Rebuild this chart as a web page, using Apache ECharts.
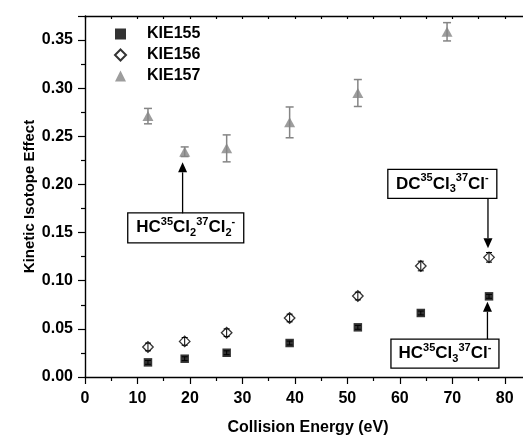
<!DOCTYPE html>
<html><head><meta charset="utf-8">
<script src="https://cdn.jsdelivr.net/npm/echarts@6/dist/echarts.min.js"></script>
<style>html,body{margin:0;padding:0;background:#fff}#c{width:523px;height:437px}</style>
</head><body><div id="c"></div>
<script>
// ---- data ----
const energy = [12, 19, 27, 39, 52, 64, 77];
const kie155 = [0.0152, 0.019, 0.0252, 0.0353, 0.0516, 0.0665, 0.0838];
const kie155Err = [0.002, 0.002, 0.002, 0.002, 0.002, 0.002, 0.002];
const kie156 = [0.0312, 0.037, 0.046, 0.0613, 0.0841, 0.1153, 0.1243];
const kie156Err = [0.004, 0.004, 0.004, 0.004, 0.004, 0.005, 0.005];
const energy157 = [12, 19, 27, 39, 52, 69];
const kie157 = [0.271, 0.234, 0.2375, 0.2645, 0.295, 0.3586];
const kie157Err = [0.008, 0.005, 0.014, 0.016, 0.014, 0.0095];
const seriesNames = ['KIE155', 'KIE156', 'KIE157'];
const xTitle = 'Collision Energy (eV)';
const yTitle = 'Kinetic Isotope Effect';
// annotations: [boxCenterX, boxCenterY, arrowX, arrowFromY, arrowToY, richText]
const annotations = [
  [19.2, 0.155, 18.6, 0.170, 0.223, '{n|HC}{sup|35}{n|Cl}{sub|2}{sup|37}{n|Cl}{sub|2}{sup|-}'],
  [68.1, 0.2006, 76.8, 0.1856, 0.1337, '{n|DC}{sup|35}{n|Cl}{sub|3}{sup|37}{n|Cl}{supr|-}'],
  [68.6, 0.0242, 76.7, 0.0395, 0.0782, '{n|HC}{sup|35}{n|Cl}{sub|3}{sup|37}{n|Cl}{sup|-}']
];
const boxSizes = [[116, 30], [109, 29], [108, 29]];

const FONT = 'Liberation Sans, Arial, sans-serif';
const GRAY = '#858585';

function errSeries(xs, ys, es, color, cap, lw) {
  return {
    type: 'custom', silent: true, z: 1,
    renderItem: function (params, api) {
      const x = api.value(0), y = api.value(1), e = api.value(2);
      const lo = api.coord([x, y - e]), hi = api.coord([x, y + e]);
      const w = cap / 2, st = {stroke: color, lineWidth: lw};
      return {type: 'group', children: [
        {type: 'line', shape: {x1: lo[0], y1: lo[1], x2: hi[0], y2: hi[1]}, style: st},
        {type: 'line', shape: {x1: lo[0] - w, y1: lo[1], x2: lo[0] + w, y2: lo[1]}, style: st},
        {type: 'line', shape: {x1: hi[0] - w, y1: hi[1], x2: hi[0] + w, y2: hi[1]}, style: st}
      ]};
    },
    data: xs.map((x, i) => [x, ys[i], es[i]])
  };
}

const chart = echarts.init(document.getElementById('c'), null, {renderer: 'canvas'});
const axisBase = {
  axisLine: {lineStyle: {color: '#000', width: 1.4}},
  splitLine: {show: false},
  nameMoveOverlap: false
};
chart.setOption({
  animation: false,
  backgroundColor: '#fff',
  textStyle: {fontFamily: FONT},
  grid: {left: 85, top: 16, width: 446, height: 361, containLabel: false, outerBoundsMode: 'none'},
  legend: {
    left: 109, top: 21, orient: 'vertical',
    itemWidth: 11, itemHeight: 11, itemGap: 5,
    textStyle: {fontFamily: FONT, fontWeight: 'bold', fontSize: 16, color: '#000', lineHeight: 16, padding: [0, 0, 0, 16]},
    data: seriesNames
  },
  xAxis: [
    Object.assign({}, axisBase, {
      type: 'value', min: 0, max: 85, interval: 10, position: 'bottom',
      name: xTitle, nameLocation: 'middle', nameGap: 43,
      nameTextStyle: {fontFamily: FONT, fontWeight: 'bold', fontSize: 16, color: '#000'},
      axisTick: {show: true, inside: false, length: 7, lineStyle: {color: '#000', width: 1.2}},
      minorTick: {show: true, splitNumber: 2, length: 4, lineStyle: {color: '#000', width: 1.2}},
      axisLabel: {fontFamily: FONT, fontWeight: 'bold', fontSize: 16, color: '#000', margin: 14, showMaxLabel: false}
    }),
    Object.assign({}, axisBase, {
      type: 'value', min: 0, max: 85, interval: 5, position: 'top',
      axisTick: {show: true, inside: true, length: 3, lineStyle: {color: '#000', width: 1.2}},
      axisLabel: {show: false}
    })
  ],
  yAxis: Object.assign({}, axisBase, {
    type: 'value', min: 0, max: 0.375, interval: 0.05,
    name: yTitle, nameLocation: 'middle', nameGap: 48,
    nameTextStyle: {fontFamily: FONT, fontWeight: 'bold', fontSize: 15, color: '#000'},
    axisTick: {show: true, inside: false, length: 7, lineStyle: {color: '#000', width: 1.2}},
    minorTick: {show: true, splitNumber: 2, length: 4, lineStyle: {color: '#000', width: 1.2}},
    axisLabel: {fontFamily: FONT, fontWeight: 'bold', fontSize: 16, color: '#000', margin: 12, showMaxLabel: false,
      formatter: v => v.toFixed(2)}
  }),
  series: [
    errSeries(energy, kie155, kie155Err, '#000', 6, 1),
    errSeries(energy, kie156, kie156Err, '#000', 6, 1),
    errSeries(energy157, kie157, kie157Err, GRAY, 8, 1.5),
    {name: seriesNames[0], type: 'scatter', z: 3, symbol: 'rect', symbolSize: 8.5,
      itemStyle: {color: '#000'}, data: energy.map((x, i) => [x, kie155[i]])},
    {name: seriesNames[1], type: 'scatter', z: 3, symbol: 'diamond', symbolSize: 10.5,
      itemStyle: {color: 'rgba(255,255,255,0)', borderColor: '#000', borderWidth: 1.3}, data: energy.map((x, i) => [x, kie156[i]])},
    {name: seriesNames[2], type: 'scatter', z: 3, symbol: 'triangle', symbolSize: [11, 10],
      itemStyle: {color: GRAY}, data: energy157.map((x, i) => [x, kie157[i]])}
  ]
});

// annotations placed in data coordinates
const rich = {
  n: {fontFamily: FONT, fontWeight: 'bold', fontSize: 17, color: '#000', lineHeight: 22, verticalAlign: 'middle'},
  sup: {fontFamily: FONT, fontWeight: 'bold', fontSize: 11, color: '#000', lineHeight: 22, verticalAlign: 'top', padding: [0, 0, 9, 0]},
  supr: {fontFamily: FONT, fontWeight: 'bold', fontSize: 11, color: '#e00', lineHeight: 22, verticalAlign: 'top', padding: [0, 0, 9, 0]},
  sub: {fontFamily: FONT, fontWeight: 'bold', fontSize: 11, color: '#000', lineHeight: 22, verticalAlign: 'bottom', padding: [9, 0, 0, 0]}
};
const graphics = [];
annotations.forEach((a, i) => {
  const c = chart.convertToPixel({gridIndex: 0}, [a[0], a[1]]);
  const p0 = chart.convertToPixel({gridIndex: 0}, [a[2], a[3]]);
  const p1 = chart.convertToPixel({gridIndex: 0}, [a[2], a[4]]);
  const [bw, bh] = boxSizes[i];
  graphics.push({type: 'rect', shape: {x: c[0] - bw / 2, y: c[1] - bh / 2, width: bw, height: bh},
    style: {fill: '#fff', stroke: '#000', lineWidth: 1.3}, z: 10});
  graphics.push({type: 'text', x: c[0], y: c[1], z: 11,
    style: {text: a[5], rich: rich, align: 'center', verticalAlign: 'middle'}});
  const dir = p1[1] < p0[1] ? -1 : 1;
  const headLen = 10, headW = 4.5;
  graphics.push({type: 'line', z: 10, shape: {x1: p0[0], y1: p0[1], x2: p1[0], y2: p1[1] - dir * headLen},
    style: {stroke: '#000', lineWidth: 1.3}});
  graphics.push({type: 'polygon', z: 10, shape: {points: [[p1[0], p1[1]], [p1[0] - headW, p1[1] - dir * headLen], [p1[0] + headW, p1[1] - dir * headLen]]},
    style: {fill: '#000'}});
});
chart.setOption({graphic: graphics});
</script>
</body></html>
